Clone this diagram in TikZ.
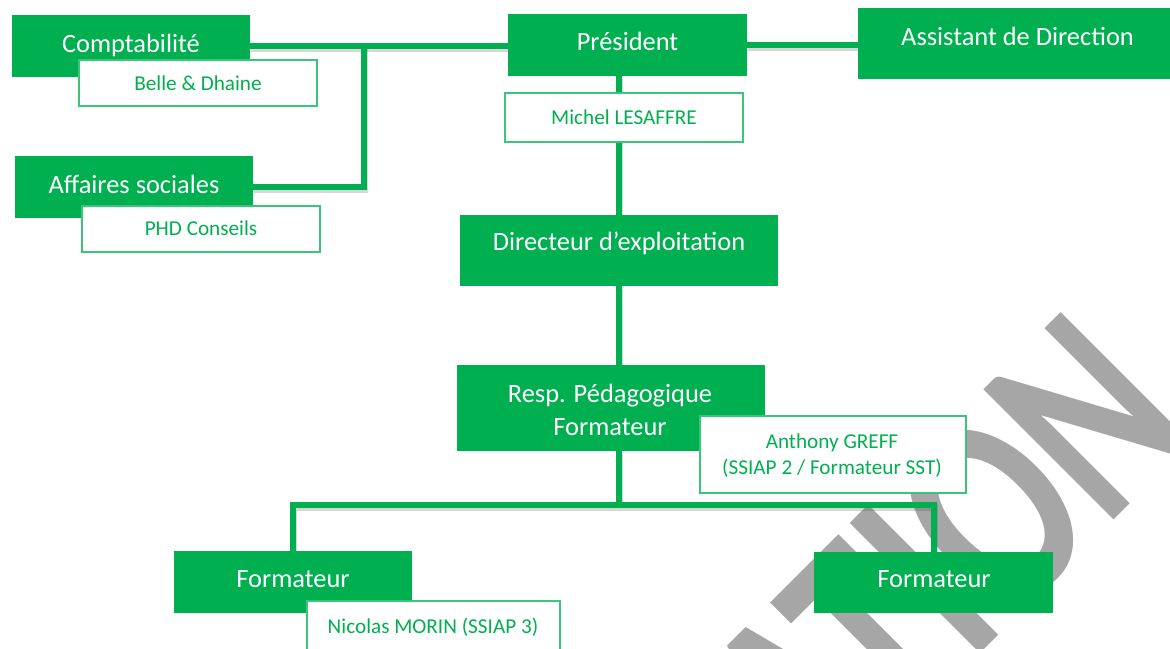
\documentclass[tikz,border=0pt]{standalone}
\usepackage{fontspec}
\setmainfont{Carlito}
\newfontfamily\wmfont{Carlito}
\pgfdeclarelayer{wm}
\pgfdeclarelayer{bg}
\pgfsetlayers{wm,bg,main}
\definecolor{gr}{HTML}{00B050}
\definecolor{wmgray}{HTML}{A6A6A6}
\definecolor{bord}{HTML}{3CC47C}
\begin{document}
\begin{tikzpicture}[x=0.5pt,y=-0.5pt,
  gbox/.style={draw=none, fill=gr, inner sep=0pt, outer sep=0pt},
  wbox/.style={draw=bord, line width=0.75pt, fill=white, inner sep=0pt, outer sep=0pt},
  big/.style={text=white, font=\fontsize{13.2pt}{16.5pt}\selectfont, inner sep=0pt, align=center},
  small/.style={text=gr, font=\fontsize{10.6pt}{13pt}\selectfont, inner sep=0pt, align=center},
  conn/.style={draw=gr, line width=3pt,
    preaction={draw=black!70, opacity=0.22, line width=3.2pt, transform canvas={xshift=0.6pt, yshift=-1.4pt}}}]
\useasboundingbox (0,0) rectangle (1170,648);
\begin{pgfonlayer}{wm}
\fill[white] (0,0) rectangle (1170,648);
\node[text=wmgray, inner sep=0pt, rotate=45, anchor=base,
  font=\wmfont\bfseries\fontsize{142pt}{142pt}\selectfont] (wmark) at (1011.5,622.5) {\scalebox{0.713}[1]{ATION}};
\end{pgfonlayer}

% green boxes
\node[gbox, minimum width=119pt, minimum height=31pt] (comp) at (131,46) {};
\node[gbox, minimum width=119pt, minimum height=31pt] (aff) at (134,187) {};
\node[gbox, minimum width=119.5pt, minimum height=31pt] (pres) at (627.5,45) {};
\node[gbox, minimum width=159pt, minimum height=35.5pt] (asst) at (1017,43.5) {};
\node[gbox, minimum width=159pt, minimum height=35.5pt] (dir) at (619,250.5) {};
\node[gbox, minimum width=154pt, minimum height=43pt] (resp) at (611,408) {};
\node[gbox, minimum width=119pt, minimum height=31pt] (f1) at (293,582) {};
\node[gbox, minimum width=119.5pt, minimum height=30.5pt] (f2) at (933.5,582.5) {};

% white boxes
\node[wbox, minimum width=119pt, minimum height=23pt] (belle) at (198,83) {};
\node[wbox, minimum width=119pt, minimum height=23pt] (phd) at (201,229) {};
\node[wbox, minimum width=119pt, minimum height=24.5pt] (michel) at (624,117.5) {};
\node[wbox, minimum width=133pt, minimum height=38.5pt] (anth) at (833,454.5) {};
\node[wbox, minimum width=126.5pt, minimum height=29.5pt] (nic) at (433.5,630.5) {};

% texts
\node[big, anchor=base] (comp-t) at (131,52) {Comptabilité};
\node[big, anchor=base] (aff-t) at (134,193) {Affaires sociales};
\node[big, anchor=base] (pres-t) at (627.5,50) {Président};
\node[big, anchor=base] (asst-t) at (1017.5,45) {Assistant de Direction};
\node[big, anchor=base] (dir-t) at (619,250) {Directeur d’exploitation};
\node[big] (resp-t) at (610,410) {Resp. Pédagogique\\Formateur};
\node[big, anchor=base] (f1-t) at (293,587) {Formateur};
\node[big, anchor=base] (f2-t) at (934,587) {Formateur};
\node[small, anchor=base] (belle-t) at (198,90) {Belle \& Dhaine};
\node[small, anchor=base] (phd-t) at (201,235) {PHD Conseils};
\node[small, anchor=base] (michel-t) at (624,124) {Michel LESAFFRE};
\node[small] (anth-t) at (832,456) {Anthony GREFF\\(SSIAP 2 / Formateur SST)};
\node[small, anchor=base] (nic-t) at (433,633) {Nicolas MORIN (SSIAP 3)};

% connectors
\coordinate (j1) at (364,46);
\coordinate (bus) at (619,505);
\begin{pgfonlayer}{bg}
\draw[conn] (comp.east) -- (comp.east -| pres.west);
\draw[conn] (pres.east) -- (pres.east -| asst.west);
\draw[conn] (aff.east) -| (j1);
\draw[conn] (pres.south -| dir.north) -- (dir.north);
\draw[conn] (dir.south) -- (dir.south |- resp.north);
\draw[conn] (resp.south -| dir.south) -- (bus);
\draw[conn] (f1.north) |- (bus) -| (f2.north);
\end{pgfonlayer}
\end{tikzpicture}
\end{document}
